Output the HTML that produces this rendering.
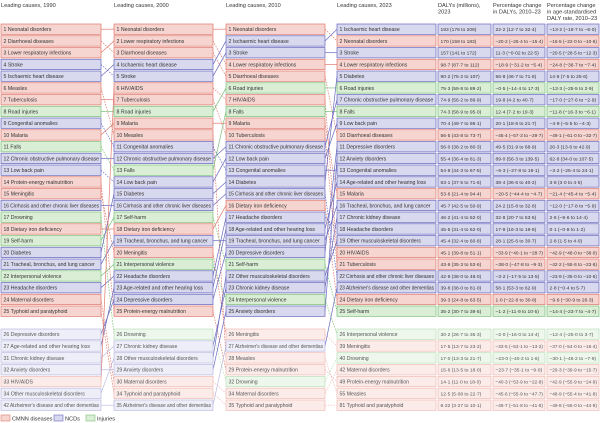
<!DOCTYPE html>
<html><head><meta charset="utf-8"><style>
html,body{margin:0;padding:0;background:#fff;}
svg{display:block;font-family:"Liberation Sans",sans-serif;}
</style></head><body>
<svg id="c" width="600" height="423" viewBox="0 0 600 423">
<g font-size="5.6" fill="#333">
<text x="1" y="7">Leading causes, 1990</text>
<text x="114" y="7">Leading causes, 2000</text>
<text x="226" y="7">Leading causes, 2010</text>
<text x="337" y="7">Leading causes, 2023</text>
<text x="438" y="7"><tspan x="438">DALYs (millions),</tspan><tspan x="438" dy="6.5">2023</tspan></text>
<text x="493" y="7"><tspan x="493">Percentage change</tspan><tspan x="493" dy="6.5">in DALYs, 2010–23</tspan></text>
<text x="547" y="7"><tspan x="547">Percentage change</tspan><tspan x="547" dy="6.5">in age-standardised</tspan><tspan x="547" dy="6.5">DALY rate, 2010–23</tspan></text>
</g>
<g id="lines"></g>
<g id="boxes"></g>
<g font-size="5.6" fill="#333">
<rect x="1" y="415" width="9" height="6" fill="#f6d5d0" stroke="#e07a6e" stroke-width="0.6"/>
<text x="12" y="420.5">CMNN diseases</text>
<rect x="54" y="415" width="9" height="6" fill="#d8d8ee" stroke="#6a6abf" stroke-width="0.6"/>
<text x="65" y="420.5">NCDs</text>
<rect x="86" y="415" width="9" height="6" fill="#d9eed5" stroke="#7cc07a" stroke-width="0.6"/>
<text x="97" y="420.5">Injuries</text>
</g>
</svg>
<script>
const cat={"Neonatal disorders":"C","Diarrhoeal diseases":"C","Lower respiratory infections":"C","Stroke":"N","Ischaemic heart disease":"N","Measles":"C","Tuberculosis":"C","Road injuries":"I","Congenital anomalies":"N","Malaria":"C","Falls":"I","Chronic obstructive pulmonary disease":"N","Low back pain":"N","Protein-energy malnutrition":"C","Meningitis":"C","Cirrhosis and other chronic liver diseases":"N","Drowning":"I","Dietary iron deficiency":"C","Self-harm":"I","Diabetes":"N","Tracheal, bronchus, and lung cancer":"N","Interpersonal violence":"I","Headache disorders":"N","Maternal disorders":"C","Typhoid and paratyphoid":"C","Depressive disorders":"N","Age-related and other hearing loss":"N","Chronic kidney disease":"N","Anxiety disorders":"N","HIV/AIDS":"C","Other musculoskeletal disorders":"N","Alzheimer's disease and other dementias":"N"};
const top1990=["Neonatal disorders","Diarrhoeal diseases","Lower respiratory infections","Stroke","Ischaemic heart disease","Measles","Tuberculosis","Road injuries","Congenital anomalies","Malaria","Falls","Chronic obstructive pulmonary disease","Low back pain","Protein-energy malnutrition","Meningitis","Cirrhosis and other chronic liver diseases","Drowning","Dietary iron deficiency","Self-harm","Diabetes","Tracheal, bronchus, and lung cancer","Interpersonal violence","Headache disorders","Maternal disorders","Typhoid and paratyphoid"];
const low1990=["Depressive disorders","Age-related and other hearing loss","Chronic kidney disease","Anxiety disorders","HIV/AIDS","Other musculoskeletal disorders","Alzheimer's disease and other dementias"];
const lowRank1990=[26,27,31,32,33,34,42];
const top2000=["Neonatal disorders","Lower respiratory infections","Diarrhoeal diseases","Ischaemic heart disease","Stroke","HIV/AIDS","Tuberculosis","Road injuries","Malaria","Measles","Congenital anomalies","Chronic obstructive pulmonary disease","Falls","Low back pain","Diabetes","Cirrhosis and other chronic liver diseases","Self-harm","Dietary iron deficiency","Tracheal, bronchus, and lung cancer","Meningitis","Interpersonal violence","Headache disorders","Age-related and other hearing loss","Depressive disorders","Protein-energy malnutrition"];
const low2000=["Drowning","Chronic kidney disease","Other musculoskeletal disorders","Anxiety disorders","Maternal disorders","Typhoid and paratyphoid","Alzheimer's disease and other dementias"];
const lowRank2000=[26,27,28,29,30,34,35];
const top2010=["Neonatal disorders","Ischaemic heart disease","Stroke","Lower respiratory infections","Diarrhoeal diseases","Road injuries","HIV/AIDS","Falls","Malaria","Tuberculosis","Chronic obstructive pulmonary disease","Low back pain","Congenital anomalies","Diabetes","Cirrhosis and other chronic liver diseases","Dietary iron deficiency","Headache disorders","Age-related and other hearing loss","Tracheal, bronchus, and lung cancer","Depressive disorders","Self-harm","Other musculoskeletal disorders","Chronic kidney disease","Interpersonal violence","Anxiety disorders"];
const low2010=["Meningitis","Alzheimer's disease and other dementias","Measles","Protein-energy malnutrition","Drowning","Maternal disorders","Typhoid and paratyphoid"];
const lowRank2010=[26,27,28,29,32,34,35];
const top2023=["Ischaemic heart disease","Neonatal disorders","Stroke","Lower respiratory infections","Diabetes","Road injuries","Chronic obstructive pulmonary disease","Falls","Low back pain","Diarrhoeal diseases","Depressive disorders","Anxiety disorders","Congenital anomalies","Age-related and other hearing loss","Malaria","Tracheal, bronchus, and lung cancer","Chronic kidney disease","Headache disorders","Other musculoskeletal disorders","HIV/AIDS","Tuberculosis","Cirrhosis and other chronic liver diseases","Alzheimer's disease and other dementias","Dietary iron deficiency","Self-harm"];
const low2023=["Interpersonal violence","Meningitis","Drowning","Maternal disorders","Protein-energy malnutrition","Measles","Typhoid and paratyphoid"];
const lowRank2023=[26,39,40,42,49,55,81];
const dalys=["193 (176 to 209)","170 (159 to 183)","157 (141 to 172)","98·7 (87·7 to 112)","90·2 (75·2 to 107)","75·3 (59·8 to 89·2)","74·9 (56·2 to 86·9)","74·3 (58·9 to 95·0)","70·4 (49·7 to 95·1)","56·5 (43·8 to 73·7)","56·0 (38·2 to 80·3)","55·4 (36·4 to 81·3)","54·8 (44·3 to 67·5)","53·1 (37·5 to 71·6)","53·6 (21·4 to 94·4)","45·7 (42·5 to 50·9)","46·2 (41·4 to 52·0)","45·5 (31·4 to 62·0)","45·4 (32·4 to 60·8)","45·1 (39·8 to 51·1)","43·6 (35·3 to 53·6)","42·9 (38·0 to 48·0)","39·8 (38·0 to 81·0)","39·3 (24·8 to 63·5)","35·2 (30·7 to 39·5)","30·2 (26·7 to 35·3)","17·5 (13·7 to 23·2)","17·0 (13·3 to 21·7)","15·6 (13·5 to 18·0)","14·1 (11·0 to 18·0)","12·5 (5·08 to 22·7)","6·22 (3·27 to 10·1)"];
const pctChange=["22·2 (12·7 to 32·4)","−20·2 (−26·4 to −15·4)","11·3 (−0·02 to 22·5)","−18·9 (−31·2 to −5·4)","56·8 (46·7 to 71·6)","−0·5 (−14·4 to 17·3)","19·8 (4·2 to 40·7)","12·4 (7·2 to 19·3)","20·1 (18·6 to 21·7)","−45·4 (−57·3 to −29·7)","49·5 (31·9 to 68·9)","89·0 (56·3 to 139·5)","−6·3 (−27·8 to 19·1)","38·4 (36·6 to 40·2)","−20·5 (−44·4 to −4·7)","24·2 (15·8 to 32·8)","32·8 (20·7 to 53·5)","17·9 (16·3 to 19·6)","28·1 (25·6 to 30·7)","−33·9 (−40·1 to −28·7)","−38·0 (−47·8 to −9·3)","−3·2 (−17·5 to 13·5)","58·1 (53·3 to 62·9)","1·0 (−22·8 to 30·8)","−1·2 (−11·9 to 10·5)","−2·0 (−16·0 to 14·4)","−33·5 (−53·1 to −13·2)","−23·0 (−40·2 to 1·6)","−23·7 (−35·1 to −9·0)","−40·3 (−53·9 to −22·8)","−45·6 (−55·9 to −47·7)","−46·7 (−51·8 to −41·8)"];
const ageStd=["−13·2 (−19·7 to −6·0)","−16·5 (−22·0 to −10·6)","−20·5 (−28·5 to −12·3)","−24·8 (−36·7 to −7·4)","14·9 (7·5 to 25·6)","−13·3 (−25·5 to 2·9)","−17·0 (−27·6 to −2·9)","−11·8 (−16·3 to −6·1)","−4·9 (−5·5 to −4·3)","−49·1 (−61·0 to −32·7)","26·3 (13·6 to 42·9)","62·8 (34·0 to 107·5)","−3·2 (−25·4 to 24·1)","3·8 (3·0 to 4·5)","−21·4 (−45·4 to −5·4)","−12·0 (−17·8 to −5·9)","2·6 (−9·6 to 14·4)","0·1 (−0·8 to 1·2)","2·8 (1·5 to 4·0)","−42·9 (−48·0 to −38·0)","−42·2 (−55·6 to −23·6)","−23·9 (−35·0 to −10·6)","2·8 (−0·4 to 5·7)","−9·9 (−30·9 to 26·3)","−14·4 (−23·7 to −4·7)","−12·4 (−25·0 to 3·7)","−37·0 (−54·0 to −16·4)","−30·1 (−46·2 to −7·9)","−29·3 (−39·9 to −15·7)","−42·9 (−55·9 to −24·9)","−48·9 (−55·4 to −41·8)","−49·8 (−55·0 to −44·9)"];

const NS="http://www.w3.org/2000/svg";
const fill={C:"#f6d5d0",N:"#d8d8ee",I:"#d9eed5"};
const fillL={C:"#fbecea",N:"#eeeef8",I:"#edf7eb"};
const strokeC={C:"#e07a6e",N:"#6a6abf",I:"#7cc07a"};
const strokeL={C:"#f0bcb5",N:"#bcbce2",I:"#bde0bb"};
function rowY(i){return i<25?24+i*11.75:329+(i-25)*11.83;}
const RH=10.4;
const cols=[
 {x:1,w:100,top:top1990,low:low1990,lr:lowRank1990,key:"1990"},
 {x:114,w:99,top:top2000,low:low2000,lr:lowRank2000,key:"2000"},
 {x:226,w:99,top:top2010,low:low2010,lr:lowRank2010,key:"2010"},
 {x:337,w:99,top:top2023,low:low2023,lr:lowRank2023,key:"2023"}
];
const boxes=document.getElementById('boxes');
const lines=document.getElementById('lines');
function mk(tag,attrs,parent){const e=document.createElementNS(NS,tag);for(const k in attrs)e.setAttribute(k,attrs[k]);parent.appendChild(e);return e;}
function items(c){const a=c.top.map((n,i)=>({n,rank:i+1,idx:i}));c.low.forEach((n,j)=>a.push({n,rank:c.lr[j],idx:25+j}));return a;}
for(let k=0;k<3;k++){
 const A=items(cols[k]),B=items(cols[k+1]);
 A.forEach(a=>{const b=B.find(x=>x.n===a.n);if(!b)return;
  const ct=cat[a.n];const faded=a.idx>=25&&b.idx>=25;
  const ln=mk('line',{x1:cols[k].x+cols[k].w,y1:rowY(a.idx)+RH/2,x2:cols[k+1].x,y2:rowY(b.idx)+RH/2,stroke:faded?strokeL[ct]:strokeC[ct],'stroke-width':0.7,'stroke-dasharray':b.rank>a.rank?'1.6,1.2':'none'},lines);
  
  
 });
}
function box(x,w,y,ct,light,txt,name,fs){
 const g=mk('g',{},boxes);
 
 
 mk('rect',{x:x,y:y,width:w,height:RH,fill:light?fillL[ct]:fill[ct],stroke:light?strokeL[ct]:strokeC[ct],'stroke-width':0.7},g);
 const t=mk('text',{x:x+2.5,y:y+7.2,'font-size':fs,fill:light?'#555':'#333'},g);
 t.textContent=txt;
 const maxW=w-4.5;
 try{ if(t.getComputedTextLength()>maxW){t.setAttribute('textLength',maxW);t.setAttribute('lengthAdjust','spacingAndGlyphs');} }catch(e){}
}
cols.forEach(c=>{
 items(c).forEach(it=>{
  const ct=cat[it.n];
  box(c.x,c.w,rowY(it.idx),ct,it.idx>=25,it.rank+' '+it.n,'cause-'+c.key+'-rank-'+it.rank,5.2);
 });
});
const c23=items(cols[3]);
c23.forEach((it,i)=>{
 const ct=cat[it.n],y=rowY(it.idx),l=it.idx>=25;
 box(438,53,y,ct,l,dalys[i],'dalys-rank-'+it.rank,4.9);
 box(493,52,y,ct,l,pctChange[i],'pct-change-rank-'+it.rank,4.9);
 box(547,52,y,ct,l,ageStd[i],'age-std-change-rank-'+it.rank,4.9);
});
</script>
</body></html>
